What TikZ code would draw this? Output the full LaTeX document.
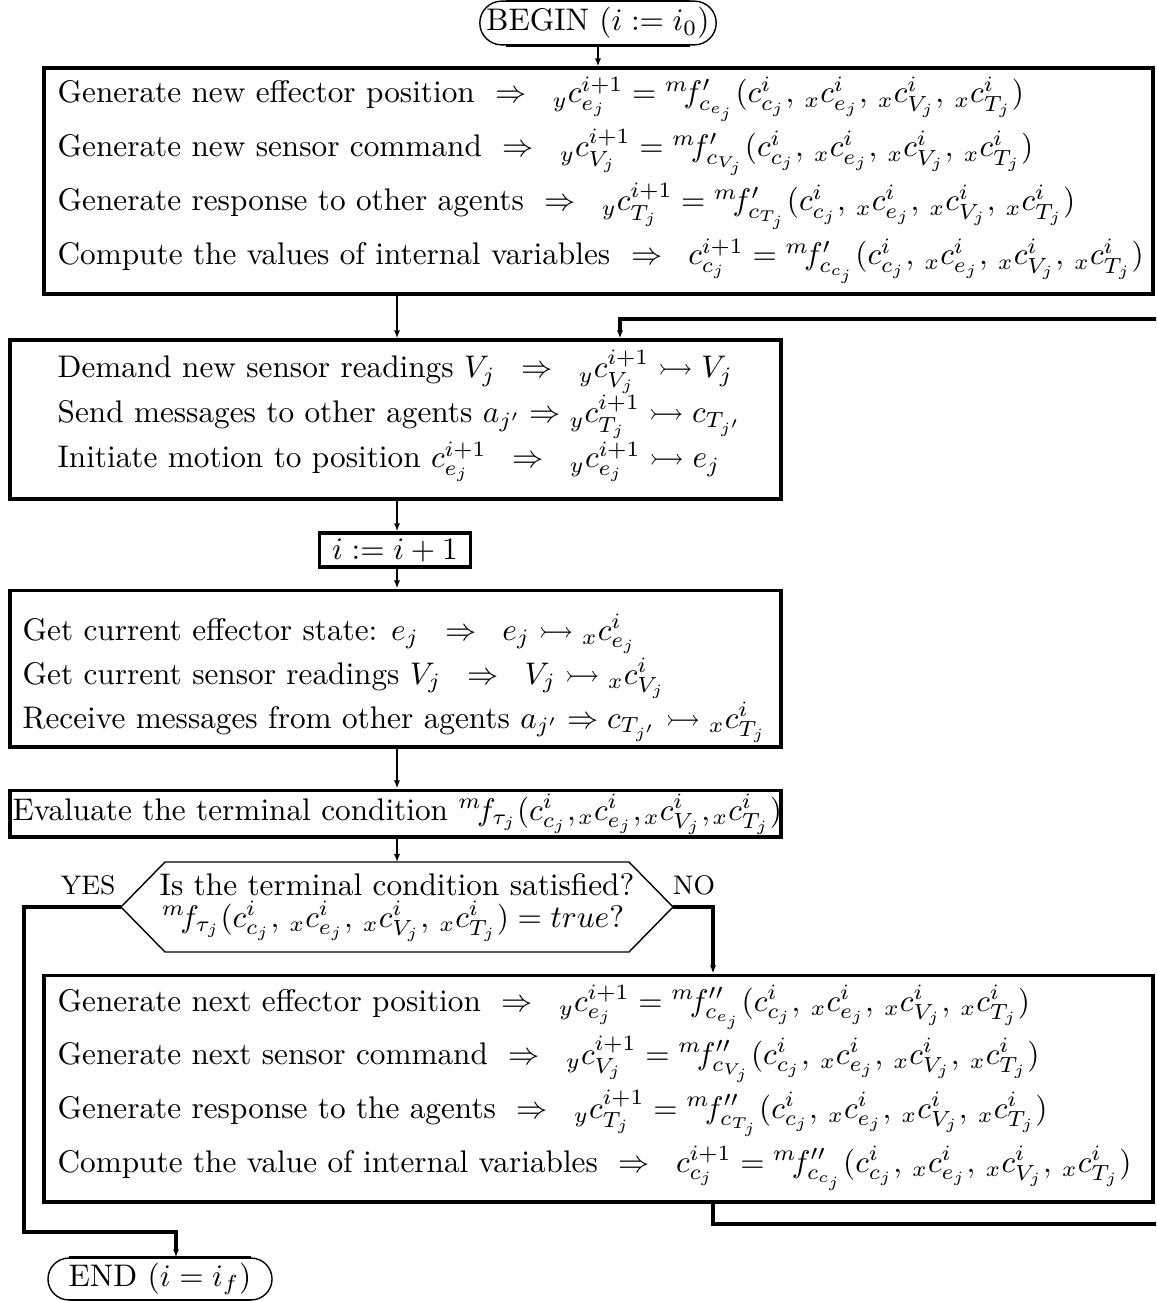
\documentclass[tikz,border=0pt]{standalone}
\usepackage{amsmath,amssymb}
\usetikzlibrary{arrows.meta,shapes.misc}
\newcommand{\fargs}{(c^i_{c_j},\,{}_xc^i_{e_j},\,{}_xc^i_{V_j},\,{}_xc^i_{T_j})}
\newcommand{\fargsb}{(c^i_{c_j},\mskip-1.5mu{}_xc^i_{e_j},\mskip-1.5mu{}_xc^i_{V_j},\mskip-1.5mu{}_xc^i_{T_j})}
\begin{document}
\begin{tikzpicture}[x=0.32pt,y=-0.32pt,
  bx/.style={draw,line width=1pt,inner sep=0pt},
  ln/.style={anchor=base west,inner sep=0pt},
  cln/.style={anchor=base,inner sep=0pt},
  term/.style={draw,line width=0.45pt,rounded rectangle,inner sep=0pt},
  conn/.style={line width=0.6pt,-{Latex[length=2.6pt,width=2pt]}},
  looparr/.style={line width=1pt,-{Latex[length=2.6pt,width=2pt]}},
  lab/.style={inner sep=0pt,font=\fontsize{8.6}{10}\selectfont}]
\useasboundingbox (0,0) rectangle (1156,1301);
\clip (0,0) rectangle (1156,1301);

% BEGIN
\node[term,minimum width=73pt,minimum height=14pt] (begin) at (598,23) {BEGIN $(i := i_0)$};
\draw[line width=1pt] ([xshift=-29.4pt]begin.north) -- ([xshift=29.4pt]begin.north);
\draw[line width=1pt] ([xshift=-29.4pt]begin.south) -- ([xshift=29.4pt]begin.south);

% Box 1
\node[bx,minimum width=354.9pt,minimum height=72.3pt] (b1) at (598.5,181) {};
\node[ln] (l11) at (57,103) {Generate new effector position\ \ $\Rightarrow\;\;{}_yc^{i+1}_{e_j} = {}^m\!f'_{c_{e_j}}\fargs$};
\node[ln] (l12) at (57,157) {Generate new sensor command\ \ $\Rightarrow\;\;{}_yc^{i+1}_{V_j} = {}^m\!f'_{c_{V_j}}\fargs$};
\node[ln] (l13) at (57,211) {Generate response to other agents\ \ $\Rightarrow\;\;{}_yc^{i+1}_{T_j} = {}^m\!f'_{c_{T_j}}\fargs$};
\node[ln] (l14) at (57,265) {Compute the values of internal variables\ \ $\Rightarrow\;\;c^{i+1}_{c_j} = {}^m\!f'_{c_{c_j}}\fargs$};

% Box 2
\node[bx,minimum width=246.7pt,minimum height=50.9pt] (b2) at (395.5,419.5) {};
\node[ln] (l21) at (57,378) {Demand new sensor readings $V_j\;\;\Rightarrow\;\;{}_yc^{i+1}_{V_j}\rightarrowtail V_j$};
\node[ln] (l22) at (57,423) {Send messages to other agents $a_{j'}\Rightarrow{}_yc^{i+1}_{T_j}\rightarrowtail c_{T_{j'}}$};
\node[ln] (l23) at (57,468) {Initiate motion to position $c^{i+1}_{e_j}\;\;\Rightarrow\;\;{}_yc^{i+1}_{e_j}\rightarrowtail e_j$};

% i := i+1
\node[bx,minimum width=48.3pt,minimum height=10.9pt] (ib) at (395,550) {$i := i+1$};

% Box 3
\node[bx,minimum width=246.7pt,minimum height=50.2pt] (b3) at (395.5,668.5) {};
\node[ln] (l31) at (22,640) {Get current effector state: $e_j\;\;\Rightarrow\;\;e_j\rightarrowtail{}_xc^i_{e_j}$};
\node[ln] (l32) at (22,684) {Get current sensor readings $V_j\;\;\Rightarrow\;\;V_j\rightarrowtail{}_xc^i_{V_j}$};
\node[ln] (l33) at (22,728) {Receive messages from other agents $a_{j'}\Rightarrow c_{T_{j'}}\rightarrowtail{}_xc^i_{T_j}$};

% Evaluate
\node[bx,minimum width=246.7pt,minimum height=15pt] (ev) at (395.5,813.5) {};
\node[ln] (l41) at (12,820) {Evaluate the terminal condition ${}^m\!f_{\tau_j}\fargsb$};

% Decision
\coordinate (dec) at (397,907);
\coordinate (decN) at (397,862);
\coordinate (decL) at (121,907);
\coordinate (decR) at (673,907);
\draw[line width=0.45pt] (decL) -- (165,862) -- (629,862) -- (decR) -- (629,952) -- (165,952) -- cycle;
\node[cln] (d1) at (397,895) {Is the terminal condition satisfied?};
\node[cln] (d2) at (393,927) {${}^m\!f_{\tau_j}\fargs = true?$};
\node[lab] (yes) at (88,885) {YES};
\node[lab] (no) at (694,885) {NO};

% Box 5
\node[bx,minimum width=354.9pt,minimum height=72.6pt] (b5) at (598.5,1088.5) {};
\node[ln] (l51) at (57,1011) {Generate next effector position\ \ $\Rightarrow\;\;{}_yc^{i+1}_{e_j} = {}^m\!f''_{c_{e_j}}\fargs$};
\node[ln] (l52) at (57,1064) {Generate next sensor command\ \ $\Rightarrow\;\;{}_yc^{i+1}_{V_j} = {}^m\!f''_{c_{V_j}}\fargs$};
\node[ln] (l53) at (57,1118) {Generate response to the agents\ \ $\Rightarrow\;\;{}_yc^{i+1}_{T_j} = {}^m\!f''_{c_{T_j}}\fargs$};
\node[ln] (l54) at (57,1172) {Compute the value of internal variables\ \ $\Rightarrow\;\;c^{i+1}_{c_j} = {}^m\!f''_{c_{c_j}}\fargs$};

% END
\node[term,minimum width=71.7pt,minimum height=13.4pt] (fin) at (160,1279) {END $(i = i_f)$};
\draw[line width=1pt] ([xshift=-29.1pt]fin.north) -- ([xshift=29.1pt]fin.north);
\draw[line width=1pt] ([xshift=-29.1pt]fin.south) -- ([xshift=29.1pt]fin.south);

% connectors
\draw[conn] (begin.south) -- (b1.north -| begin.south);
\draw[conn] (b1.south -| 397,0) -- (b2.north -| 397,0);
\draw[conn] (b2.south -| 397,0) -- (ib.north -| 397,0);
\draw[conn] (ib.south -| 397,0) -- (b3.north -| 397,0);
\draw[conn] (b3.south -| 397,0) -- (ev.north -| 397,0);
\draw[conn] (ev.south -| 397,0) -- (decN);

% NO branch
\coordinate (nox) at (713,907);
\draw[looparr] (decR) -- (nox) -- (nox |- b5.north);

% feedback loop
\coordinate (fb2) at (1180,1224);
\coordinate (fb4) at (620,319);
\draw[looparr] (b5.south -| nox) |- (fb2) |- (fb4) -- (fb4 |- b2.north);

% YES branch
\coordinate (ya) at (24,907);
\coordinate (yb) at (24,1232);
\coordinate (yc) at (176,1232);
\draw[looparr] (decL) -- (ya) -- (yb) -- (yc) -- (yc |- fin.north);
\end{tikzpicture}
\end{document}
